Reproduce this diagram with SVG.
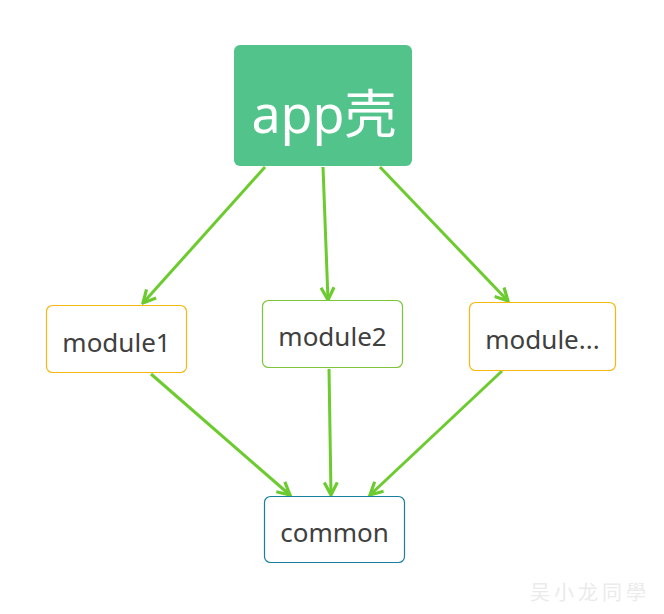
<svg xmlns="http://www.w3.org/2000/svg" width="664" height="614" viewBox="0 0 664 614">
<defs>
<style>
.box{fill:#fff;stroke-width:1.2}
.lbl{font-family:"Noto Sans","Noto Sans CJK SC",sans-serif;font-size:26px;fill:#404040;text-anchor:middle}
.edge{stroke:#6CCB2E;stroke-width:3;fill:none}
</style>
<marker id="ah" viewBox="0 0 16 16" refX="14" refY="8" markerWidth="16" markerHeight="16" markerUnits="userSpaceOnUse" orient="auto">
<polyline points="1.5,1.5 14,8 1.5,14.5" fill="none" stroke="#6CCB2E" stroke-width="3.2" stroke-linejoin="miter"/>
</marker>
</defs>
<rect width="664" height="614" fill="#fff"/>
<g id="connectors">
<line class="edge" x1="265" y1="167" x2="143" y2="303" marker-end="url(#ah)"/>
<line class="edge" x1="323" y1="167" x2="328" y2="300" marker-end="url(#ah)"/>
<line class="edge" x1="380" y1="167" x2="508" y2="301" marker-end="url(#ah)"/>
<line class="edge" x1="151" y1="374" x2="290" y2="495" marker-end="url(#ah)"/>
<line class="edge" x1="329" y1="369" x2="331" y2="495" marker-end="url(#ah)"/>
<line class="edge" x1="502" y1="371" x2="370" y2="495" marker-end="url(#ah)"/>
</g>
<g id="app">
<rect x="234" y="45" width="178" height="121" rx="6" fill="#52C48B"/>
<text x="324" y="133" font-family="Noto Sans,'Noto Sans CJK SC',sans-serif" font-size="52" fill="#fff" text-anchor="middle">app壳</text>
</g>
<g id="module1">
<rect class="box" x="46.5" y="305.5" width="140" height="67" rx="6" stroke="#F5B811"/>
<text class="lbl" x="116.5" y="352">module1</text>
</g>
<g id="module2">
<rect class="box" x="262.5" y="300.5" width="140" height="67" rx="6" stroke="#7CC53A"/>
<text class="lbl" x="332.5" y="346">module2</text>
</g>
<g id="module3">
<rect class="box" x="469.5" y="302.5" width="146" height="68" rx="6" stroke="#F5B811"/>
<text class="lbl" x="542.5" y="349">module...</text>
</g>
<g id="common">
<rect class="box" x="264.5" y="496.5" width="140" height="66" rx="6" stroke="#1A7F9A"/>
<text class="lbl" x="334.5" y="542">common</text>
</g>
<text x="590" y="600" font-family="'Noto Sans CJK SC',sans-serif" font-size="20" fill="#EBEBEB" text-anchor="middle" letter-spacing="4">吴小龙同學</text>
</svg>
